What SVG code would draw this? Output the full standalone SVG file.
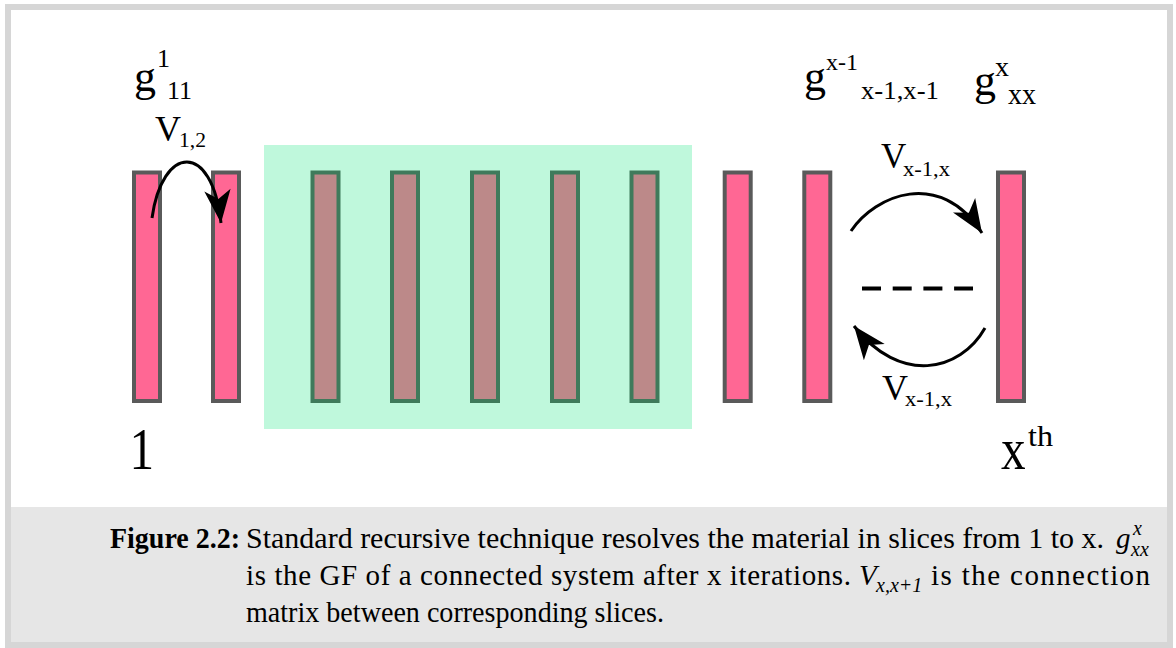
<svg xmlns="http://www.w3.org/2000/svg" width="1176" height="648" viewBox="0 0 1176 648">
<defs>
<style>
.slice{fill:#ff6794;stroke:#5a5a5a;stroke-width:4}
.islice{fill:#bc8989;stroke:#3f7a5b;stroke-width:4}
.lbl{font-family:"Liberation Serif","Times New Roman",serif;fill:#000}
.arc{fill:none;stroke:#000;stroke-width:3;marker-end:url(#ah)}
.cap{font-family:"Liberation Serif","Times New Roman",serif;font-size:29px;fill:#000}
.mi{font-style:italic}
.ms{font-style:italic;font-size:20px}
</style>
<marker id="ah" markerUnits="userSpaceOnUse" markerWidth="44" markerHeight="44" viewBox="-34 -17 40 34" refX="0" refY="0" orient="auto">
<path d="M0,0 L-30,-12 L-22,0 L-30,12 Z" fill="#000"/>
</marker>
</defs>
<rect x="0" y="0" width="1176" height="648" fill="#fff"/>
<rect x="8" y="7" width="1162" height="638" fill="#fff" stroke="#d6d6d6" stroke-width="6"/>
<rect x="11" y="507" width="1156" height="135" fill="#e6e6e6"/>

<g id="block">
<rect x="264" y="145" width="428" height="284" fill="#bff8dc"/>
</g>
<g id="slice1"><rect class="slice" x="134" y="172.5" width="26" height="228.5"/></g>
<g id="slice2"><rect class="slice" x="213" y="172.5" width="26" height="228.5"/></g>
<g id="slice3"><rect class="islice" x="312.5" y="172.5" width="26" height="228.5"/></g>
<g id="slice4"><rect class="islice" x="392" y="172.5" width="26" height="228.5"/></g>
<g id="slice5"><rect class="islice" x="472" y="172.5" width="26" height="228.5"/></g>
<g id="slice6"><rect class="islice" x="552" y="172.5" width="26" height="228.5"/></g>
<g id="slice7"><rect class="islice" x="631.5" y="172.5" width="26" height="228.5"/></g>
<g id="slice8"><rect class="slice" x="724.7" y="172.5" width="26" height="228.5"/></g>
<g id="slice9"><rect class="slice" x="804.3" y="172.5" width="26" height="228.5"/></g>
<g id="slice10"><rect class="slice" x="998" y="172.5" width="26" height="228.5"/></g>

<g id="connectors">
<path class="arc" d="M152,218 C162,145 212,140 221,223"/>
<path class="arc" d="M851,231 C875,195 940,168 982,233"/>
<path class="arc" d="M985,328 C960,372 900,385 854,326"/>
<line x1="862" y1="288.5" x2="973" y2="288.5" stroke="#000" stroke-width="4" stroke-dasharray="19 11.7"/>
</g>

<g id="labels" class="lbl">
<text x="134" y="91" font-size="44">g</text>
<text x="157" y="67" font-size="26">1</text>
<text x="167" y="99" font-size="26" textLength="25" lengthAdjust="spacingAndGlyphs">11</text>
<text x="155" y="140.7" font-size="36">V</text>
<text x="179" y="147" font-size="20" textLength="27" lengthAdjust="spacingAndGlyphs">1,2</text>
<text x="804" y="91" font-size="44">g</text>
<text x="826" y="70" font-size="24" textLength="32" lengthAdjust="spacingAndGlyphs">x-1</text>
<text x="861" y="99" font-size="26" textLength="78" lengthAdjust="spacingAndGlyphs">x-1,x-1</text>
<text x="974" y="95" font-size="44">g</text>
<text x="995" y="76" font-size="28">x</text>
<text x="1008" y="104" font-size="30" textLength="28" lengthAdjust="spacingAndGlyphs">xx</text>
<text x="881" y="168.3" font-size="35">V</text>
<text x="903" y="176" font-size="21" textLength="47" lengthAdjust="spacingAndGlyphs">x-1,x</text>
<text x="882" y="400" font-size="36">V</text>
<text x="905" y="406" font-size="21" textLength="47" lengthAdjust="spacingAndGlyphs">x-1,x</text>
<text transform="translate(129.6,469) scale(0.82,1)" font-size="60">1</text>
<text transform="translate(1001,469) scale(0.82,1)" font-size="60">x</text>
<text x="1028" y="446" font-size="30" textLength="25" lengthAdjust="spacingAndGlyphs">th</text>
</g>

<g id="caption" class="cap">
<text x="110" y="548" font-weight="bold" textLength="130" lengthAdjust="spacingAndGlyphs">Figure 2.2:</text>
<text x="246" y="548" textLength="858" lengthAdjust="spacingAndGlyphs">Standard recursive technique resolves the material in slices from 1 to x.</text>
<text x="1116" y="548" class="mi">g</text>
<text x="1133" y="535" class="ms">x</text>
<text x="1131" y="556" class="ms">xx</text>
<text x="246" y="585" textLength="605" lengthAdjust="spacing">is the GF of a connected system after x iterations.</text>
<text x="859" y="585" class="mi">V</text>
<text x="876" y="592" class="ms">x,x+1</text>
<text x="931" y="585" textLength="219" lengthAdjust="spacing">is the connection</text>
<text x="246" y="622" textLength="418" lengthAdjust="spacingAndGlyphs">matrix between corresponding slices.</text>
</g>
</svg>
